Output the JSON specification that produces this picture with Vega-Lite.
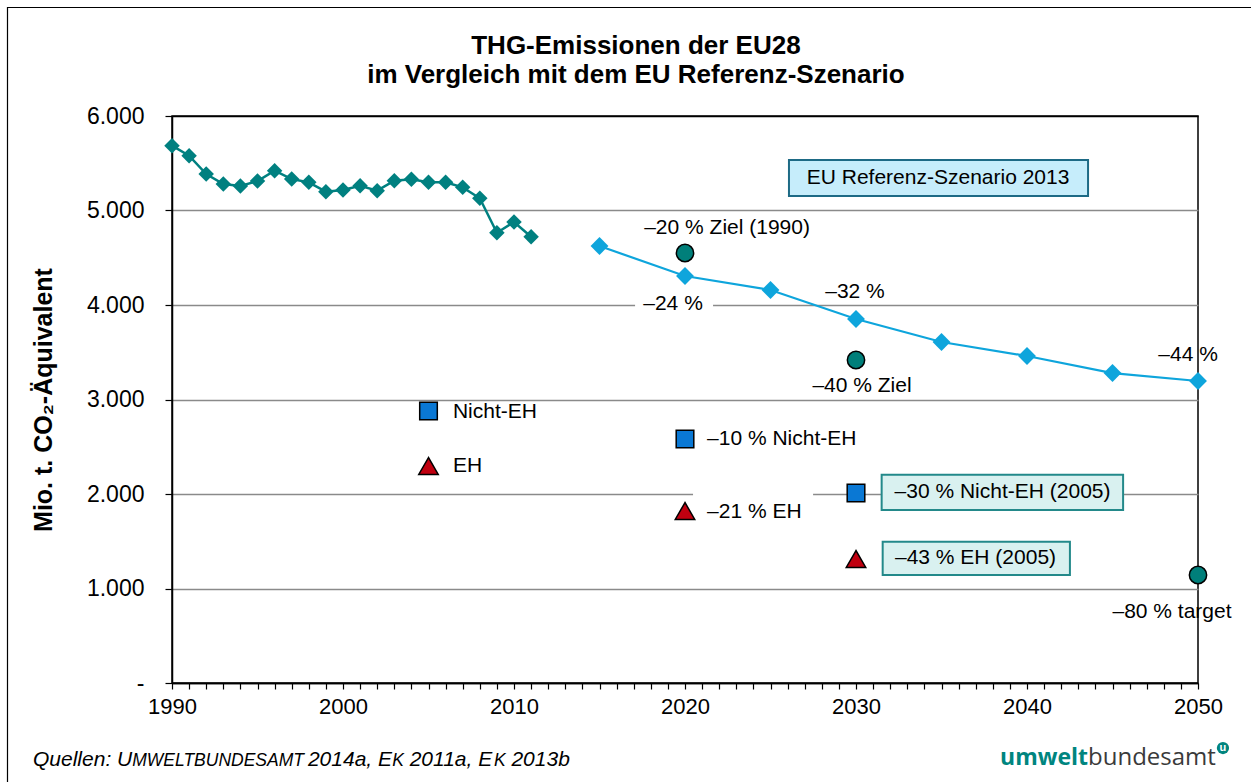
{
  "$schema": "https://vega.github.io/schema/vega-lite/v6.json",
  "width": 1026,
  "height": 567,
  "autosize": "none",
  "padding": {"left": 172, "top": 116, "right": 53, "bottom": 99},
  "background": "white",
  "config": {
    "view": {"stroke": "black", "strokeWidth": 1.5},
    "font": "Liberation Sans",
    "text": {"font": "Liberation Sans", "color": "black"}
  },
  "datasets": {
    "hist": [
      {"year": 1990, "value": 5686}, {"year": 1991, "value": 5580}, {"year": 1992, "value": 5386},
      {"year": 1993, "value": 5280}, {"year": 1994, "value": 5259}, {"year": 1995, "value": 5312},
      {"year": 1996, "value": 5421}, {"year": 1997, "value": 5333}, {"year": 1998, "value": 5298},
      {"year": 1999, "value": 5199}, {"year": 2000, "value": 5217}, {"year": 2001, "value": 5262},
      {"year": 2002, "value": 5210}, {"year": 2003, "value": 5316}, {"year": 2004, "value": 5330},
      {"year": 2005, "value": 5298}, {"year": 2006, "value": 5298}, {"year": 2007, "value": 5245},
      {"year": 2008, "value": 5129}, {"year": 2009, "value": 4765}, {"year": 2010, "value": 4878},
      {"year": 2011, "value": 4723}
    ],
    "scen": [
      {"year": 2015, "value": 4624}, {"year": 2020, "value": 4307}, {"year": 2025, "value": 4159},
      {"year": 2030, "value": 3852}, {"year": 2035, "value": 3608}, {"year": 2040, "value": 3460},
      {"year": 2045, "value": 3280}, {"year": 2050, "value": 3196}
    ],
    "circles": [{"year": 2020, "value": 4550}, {"year": 2030, "value": 3418}, {"year": 2050, "value": 1143}],
    "squares": [{"year": 2005, "value": 2878}, {"year": 2020, "value": 2582}, {"year": 2030, "value": 2011}],
    "triangles": [{"year": 2005, "value": 2296}, {"year": 2020, "value": 1820}, {"year": 2030, "value": 1312}],
    "border": [{"year": 1980.38, "year2": 2054.5, "value": 7148, "value2": -1300}],
    "whitebg": [
      {"year": 2017.08, "year2": 2021.64, "value": 4106, "value2": 3894},
      {"year": 2020.47, "year2": 2027.49, "value": 2050, "value2": 1950}
    ],
    "bluebox": [{"year": 2026.08, "year2": 2043.57, "value": 5534, "value2": 5153}],
    "tealbox": [
      {"year": 2031.5, "year2": 2045.62, "value": 2204, "value2": 1831},
      {"year": 2031.56, "year2": 2042.51, "value": 1495, "value2": 1143}
    ],
    "labelsC": [
      {"year": 2022.46, "value": 4815, "text": "–20 % Ziel (1990)"},
      {"year": 2019.3, "value": 4011, "text": "–24 %"},
      {"year": 2029.94, "value": 4138, "text": "–32 %"},
      {"year": 2030.35, "value": 3143, "text": "–40 % Ziel"},
      {"year": 2049.42, "value": 3471, "text": "–44 %"},
      {"year": 2048.48, "value": 751, "text": "–80 % target"},
      {"year": 2034.8, "value": 5344, "text": "EU Referenz-Szenario 2013"},
      {"year": 2038.57, "value": 2017, "text": "–30 % Nicht-EH (2005)"},
      {"year": 2036.99, "value": 1319, "text": "–43 % EH (2005)"}
    ],
    "labelsL": [
      {"year": 2006.43, "value": 2868, "text": "Nicht-EH"},
      {"year": 2006.43, "value": 2296, "text": "EH"},
      {"year": 2021.29, "value": 2582, "text": "–10 % Nicht-EH"},
      {"year": 2021.29, "value": 1810, "text": "–21 % EH"}
    ],
    "title": [
      {"year": 2017.13, "value": 6741, "text": "THG-Emissionen der EU28"},
      {"year": 2017.13, "value": 6434, "text": "im Vergleich mit dem EU Referenz-Szenario"}
    ],
    "footN": [
      {"year": 1981.871, "value": -878, "text": "Quellen: U"},
      {"year": 1997.95, "value": -878, "text": "2014a, E"},
      {"year": 2003.9, "value": -878, "text": "2011a, E"},
      {"year": 2009.85, "value": -878, "text": "2013b"}
    ],
    "footS": [
      {"year": 1987.673, "value": -878, "text": "MWELTBUNDESAMT"},
      {"year": 2002.88, "value": -878, "text": "K"},
      {"year": 2008.83, "value": -878, "text": "K"}
    ],
    "logo": [{"year": 2043.57, "value": -868}],
    "logoDot": [{"year": 2051.46, "value": -688, "text": "u"}]
  },
  "encoding": {
    "x": {
      "field": "year", "type": "quantitative",
      "scale": {"domain": [1990, 2050], "nice": false, "zero": false},
      "axis": {
        "title": null,
        "values": [1990,1991,1992,1993,1994,1995,1996,1997,1998,1999,2000,2001,2002,2003,2004,2005,2006,2007,2008,2009,2010,2011,2012,2013,2014,2015,2016,2017,2018,2019,2020,2021,2022,2023,2024,2025,2026,2027,2028,2029,2030,2031,2032,2033,2034,2035,2036,2037,2038,2039,2040,2041,2042,2043,2044,2045,2046,2047,2048,2049,2050],
        "labelExpr": "datum.value % 10 == 0 ? toString(datum.value) : ''",
        "labelOverlap": false,
        "labelBound": false,
        "labelFlush": false,
        "labelFont": "Liberation Sans",
        "labelFontSize": 22,
        "labelColor": "black",
        "labelPadding": 7,
        "tickSize": 6,
        "tickColor": "black",
        "tickWidth": 1.2,
        "domainColor": "black",
        "domainWidth": 1.5,
        "grid": false
      }
    },
    "y": {
      "field": "value", "type": "quantitative",
      "scale": {"domain": [0, 6000], "nice": false, "zero": false},
      "axis": {
        "title": "Mio. t. CO₂-Äquivalent",
        "titleFont": "Liberation Sans",
        "titleFontSize": 25,
        "titleFontWeight": "bold",
        "titleColor": "black",
        "titleX": -129,
        "titleY": 283.5,
        "titleAlign": "center",
        "titleBaseline": "middle",
        "titleAngle": -90,
        "values": [0, 1000, 2000, 3000, 4000, 5000, 6000],
        "labelExpr": "datum.value == 0 ? '-' : replace(format(datum.value, ','), ',', '.')",
        "labelFont": "Liberation Sans",
        "labelFontSize": 23,
        "labelColor": "black",
        "labelPadding": 21,
        "tickSize": 7,
        "tickColor": "black",
        "tickWidth": 1.2,
        "domainColor": "black",
        "domainWidth": 1.5,
        "grid": true,
        "gridColor": {"condition": {"test": "datum.value == 6000 || datum.value == 0", "value": "black"}, "value": "#8a8a8a"},
        "gridWidth": 1.5
      }
    }
  },
  "layer": [
    {
      "data": {"name": "border"},
      "mark": {"type": "rect", "fill": null, "fillOpacity": 0, "stroke": "black", "strokeWidth": 1.2},
      "encoding": {"x2": {"field": "year2"}, "y2": {"field": "value2"}}
    },
    {
      "data": {"name": "whitebg"},
      "mark": {"type": "rect", "fill": "white"},
      "encoding": {"x2": {"field": "year2"}, "y2": {"field": "value2"}}
    },
    {
      "data": {"name": "bluebox"},
      "mark": {"type": "rect", "fill": "#c6edfb", "stroke": "#1d6a85", "strokeWidth": 2},
      "encoding": {"x2": {"field": "year2"}, "y2": {"field": "value2"}}
    },
    {
      "data": {"name": "tealbox"},
      "mark": {"type": "rect", "fill": "#d9f1f0", "stroke": "#23898a", "strokeWidth": 2},
      "encoding": {"x2": {"field": "year2"}, "y2": {"field": "value2"}}
    },
    {
      "data": {"name": "hist"},
      "mark": {"type": "line", "color": "#008080", "strokeWidth": 2.5}
    },
    {
      "data": {"name": "hist"},
      "mark": {"type": "point", "shape": "diamond", "filled": true, "size": 240, "color": "#008080", "opacity": 1}
    },
    {
      "data": {"name": "scen"},
      "mark": {"type": "line", "color": "#0ea5dc", "strokeWidth": 2.2}
    },
    {
      "data": {"name": "scen"},
      "mark": {"type": "point", "shape": "diamond", "filled": true, "size": 320, "color": "#0ea5dc", "opacity": 1}
    },
    {
      "data": {"name": "circles"},
      "mark": {"type": "point", "shape": "circle", "filled": true, "size": 300, "fill": "#007f7a", "stroke": "black", "strokeWidth": 1.5, "opacity": 1}
    },
    {
      "data": {"name": "squares"},
      "mark": {"type": "point", "shape": "square", "filled": true, "size": 310, "fill": "#0a78d4", "stroke": "black", "strokeWidth": 1.5, "opacity": 1}
    },
    {
      "data": {"name": "triangles"},
      "mark": {"type": "point", "shape": "triangle-up", "filled": true, "size": 380, "fill": "#c00010", "stroke": "black", "strokeWidth": 1.5, "opacity": 1}
    },
    {
      "data": {"name": "labelsC"},
      "mark": {"type": "text", "fontSize": 21, "align": "center", "baseline": "middle"},
      "encoding": {"text": {"field": "text"}}
    },
    {
      "data": {"name": "labelsL"},
      "mark": {"type": "text", "fontSize": 21, "align": "left", "baseline": "middle"},
      "encoding": {"text": {"field": "text"}}
    },
    {
      "data": {"name": "title"},
      "mark": {"type": "text", "fontSize": 26, "fontWeight": "bold", "align": "center", "baseline": "middle"},
      "encoding": {"text": {"field": "text"}}
    },
    {
      "data": {"name": "footN"},
      "mark": {"type": "text", "fontSize": 21, "fontStyle": "italic", "align": "left", "baseline": "alphabetic"},
      "encoding": {"text": {"field": "text"}}
    },
    {
      "data": {"name": "footS"},
      "mark": {"type": "text", "fontSize": 17.5, "fontStyle": "italic", "align": "left", "baseline": "alphabetic"},
      "encoding": {"text": {"field": "text"}}
    },
    {
      "data": {"name": "logo"},
      "mark": {"type": "text", "text": "umwelt", "font": "Open Sans", "fontSize": 23, "fontWeight": "bold", "color": "#00857f", "align": "right", "baseline": "alphabetic"}
    },
    {
      "data": {"name": "logo"},
      "mark": {"type": "text", "text": "bundesamt", "font": "Open Sans", "fontSize": 24, "color": "#3a3a3a", "align": "left", "baseline": "alphabetic"}
    },
    {
      "data": {"name": "logoDot"},
      "mark": {"type": "point", "shape": "circle", "filled": true, "size": 150, "color": "#00857f", "opacity": 1}
    },
    {
      "data": {"name": "logoDot"},
      "mark": {"type": "text", "fontSize": 11, "fontWeight": "bold", "color": "white", "align": "center", "baseline": "middle"},
      "encoding": {"text": {"field": "text"}}
    }
  ]
}
